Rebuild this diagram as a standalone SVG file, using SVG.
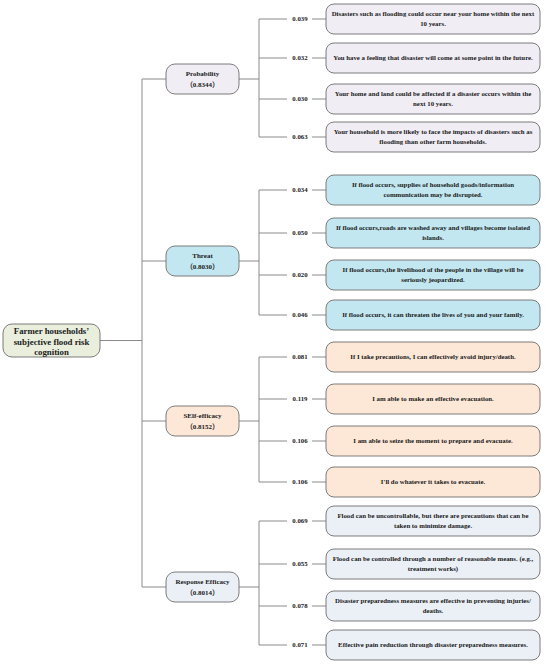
<svg xmlns="http://www.w3.org/2000/svg" width="550" height="667" viewBox="0 0 550 667">
<style>
text{font-family:"Liberation Serif","Noto Sans CJK SC",serif;font-weight:bold;fill:#1a1a1a;text-anchor:middle}
.lf{font-size:6.8px}
.num{font-size:6.8px}
.cat{font-size:7px}
.root{font-size:8.8px}
rect{stroke:#6e6e6e;stroke-width:0.9}
.p{fill:#f1edf5}
.t{fill:#c3e7f0}
.s{fill:#fde7d7}
.r{fill:#ebeff6}
.g{fill:#e9eedd}
#connectors path{stroke:#8a8a8a;stroke-width:1;fill:none}
</style>
<rect width="550" height="667" fill="#ffffff" style="stroke:none"/>
<g id="connectors">
<path d="M100 340.5H142M142 79V587M142 79H166M142 261H166M142 421H166M142 587H166"/>
<path d="M239 79H259M259 19V137M259 19H287M259 58H287M259 99H287M259 137H287"/>
<path d="M239 261H259M259 190V315M259 190H287M259 233H287M259 275H287M259 315H287"/>
<path d="M239 421H259M259 357V482M259 357H287M259 399H287M259 441H287M259 482H287"/>
<path d="M239 587H259M259 521V645M259 521H287M259 564H287M259 606H287M259 645H287"/>
<path d="M312 19H326M312 58H326M312 99H326M312 137H326M312 190H326M312 233H326M312 275H326M312 315H326M312 357H326M312 399H326M312 441H326M312 482H326M312 521H326M312 564H326M312 606H326M312 645H326"/>
</g>
<g id="root"><rect class="g" x="3" y="324" width="97" height="33" rx="9"/>
<text class="root" x="51.5" y="334">Farmer households’</text><text class="root" x="51.5" y="344.5">subjective flood risk</text><text class="root" x="51.5" y="355">cognition</text></g>
<g id="cat-probability"><rect class="p" x="166" y="64" width="73" height="30" rx="9"/>
<text class="cat" x="202.5" y="76">Probability</text><text class="cat" x="202.5" y="87">（0.8344）</text></g>
<g id="cat-threat"><rect class="t" x="166" y="246" width="73" height="30" rx="9"/>
<text class="cat" x="202.5" y="258">Threat</text><text class="cat" x="202.5" y="269">（0.8030）</text></g>
<g id="cat-self"><rect class="s" x="166" y="406" width="73" height="30" rx="9"/>
<text class="cat" x="202.5" y="418">SElf-efficacy</text><text class="cat" x="202.5" y="429">（0.8152）</text></g>
<g id="cat-response"><rect class="r" x="166" y="572" width="73" height="30" rx="9"/>
<text class="cat" x="202.5" y="584">Response Efficacy</text><text class="cat" x="202.5" y="595">（0.8014）</text></g>
<g id="numbers">
<text class="num" x="300" y="21.4">0.039</text><text class="num" x="300" y="60.4">0.032</text><text class="num" x="300" y="101.4">0.030</text><text class="num" x="300" y="139.4">0.063</text>
<text class="num" x="300" y="192.4">0.034</text><text class="num" x="300" y="235.4">0.050</text><text class="num" x="300" y="277.4">0.020</text><text class="num" x="300" y="317.4">0.046</text>
<text class="num" x="300" y="359.4">0.081</text><text class="num" x="300" y="401.4">0.119</text><text class="num" x="300" y="443.4">0.106</text><text class="num" x="300" y="484.4">0.106</text>
<text class="num" x="300" y="523.4">0.069</text><text class="num" x="300" y="566.4">0.055</text><text class="num" x="300" y="608.4">0.078</text><text class="num" x="300" y="647.4">0.071</text>
</g>
<g id="leaf-p1"><rect class="p" x="326" y="4" width="214" height="30" rx="8"/><text class="lf" x="433" y="16.4">Disasters such as flooding could occur near your home within the next</text><text class="lf" x="433" y="26.4">10 years.</text></g>
<g id="leaf-p2"><rect class="p" x="326" y="43" width="214" height="30" rx="8"/><text class="lf" x="433" y="60.4">You have a feeling that disaster will come at some point in the future.</text></g>
<g id="leaf-p3"><rect class="p" x="326" y="84" width="214" height="30" rx="8"/><text class="lf" x="433" y="96.4">Your home and land could be affected if a disaster occurs within the</text><text class="lf" x="433" y="106.4">next 10 years.</text></g>
<g id="leaf-p4"><rect class="p" x="326" y="122" width="214" height="30" rx="8"/><text class="lf" x="433" y="134.4">Your household is more likely to face the impacts of disasters such as</text><text class="lf" x="433" y="144.4">flooding than other farm households.</text></g>
<g id="leaf-t1"><rect class="t" x="326" y="175" width="214" height="30" rx="8"/><text class="lf" x="433" y="187.4">If flood occurs, supplies of household goods/information</text><text class="lf" x="433" y="197.4">communication may be disrupted.</text></g>
<g id="leaf-t2"><rect class="t" x="326" y="218" width="214" height="30" rx="8"/><text class="lf" x="433" y="230.4">If flood occurs,roads are washed away and villages become isolated</text><text class="lf" x="433" y="240.4">islands.</text></g>
<g id="leaf-t3"><rect class="t" x="326" y="260" width="214" height="30" rx="8"/><text class="lf" x="433" y="272.4">If flood occurs,the livelihood of the people in the village will be</text><text class="lf" x="433" y="282.4">seriously jeopardized.</text></g>
<g id="leaf-t4"><rect class="t" x="326" y="300" width="214" height="30" rx="8"/><text class="lf" x="433" y="317.4">If flood occurs, it can threaten the lives of you and your family.</text></g>
<g id="leaf-s1"><rect class="s" x="326" y="342" width="214" height="30" rx="8"/><text class="lf" x="433" y="359.4">If I take precautions, I can effectively avoid injury/death.</text></g>
<g id="leaf-s2"><rect class="s" x="326" y="384" width="214" height="30" rx="8"/><text class="lf" x="433" y="401.4">I am able to make an effective evacuation.</text></g>
<g id="leaf-s3"><rect class="s" x="326" y="426" width="214" height="30" rx="8"/><text class="lf" x="433" y="443.4">I am able to seize the moment to prepare and evacuate.</text></g>
<g id="leaf-s4"><rect class="s" x="326" y="467" width="214" height="30" rx="8"/><text class="lf" x="433" y="484.4">I'll do whatever it takes to evacuate.</text></g>
<g id="leaf-r1"><rect class="r" x="326" y="506" width="214" height="30" rx="8"/><text class="lf" x="433" y="518.4">Flood can be uncontrollable, but there are precautions that can be</text><text class="lf" x="433" y="528.4">taken to minimize damage.</text></g>
<g id="leaf-r2"><rect class="r" x="326" y="549" width="214" height="30" rx="8"/><text class="lf" x="433" y="561.4">Flood can be controlled through a number of reasonable means. (e.g.,</text><text class="lf" x="433" y="571.4">treatment works)</text></g>
<g id="leaf-r3"><rect class="r" x="326" y="591" width="214" height="30" rx="8"/><text class="lf" x="433" y="603.4">Disaster preparedness measures are effective in preventing injuries/</text><text class="lf" x="433" y="613.4">deaths.</text></g>
<g id="leaf-r4"><rect class="r" x="326" y="630" width="214" height="30" rx="8"/><text class="lf" x="433" y="647.4">Effective pain reduction through disaster preparedness measures.</text></g>
</svg>
